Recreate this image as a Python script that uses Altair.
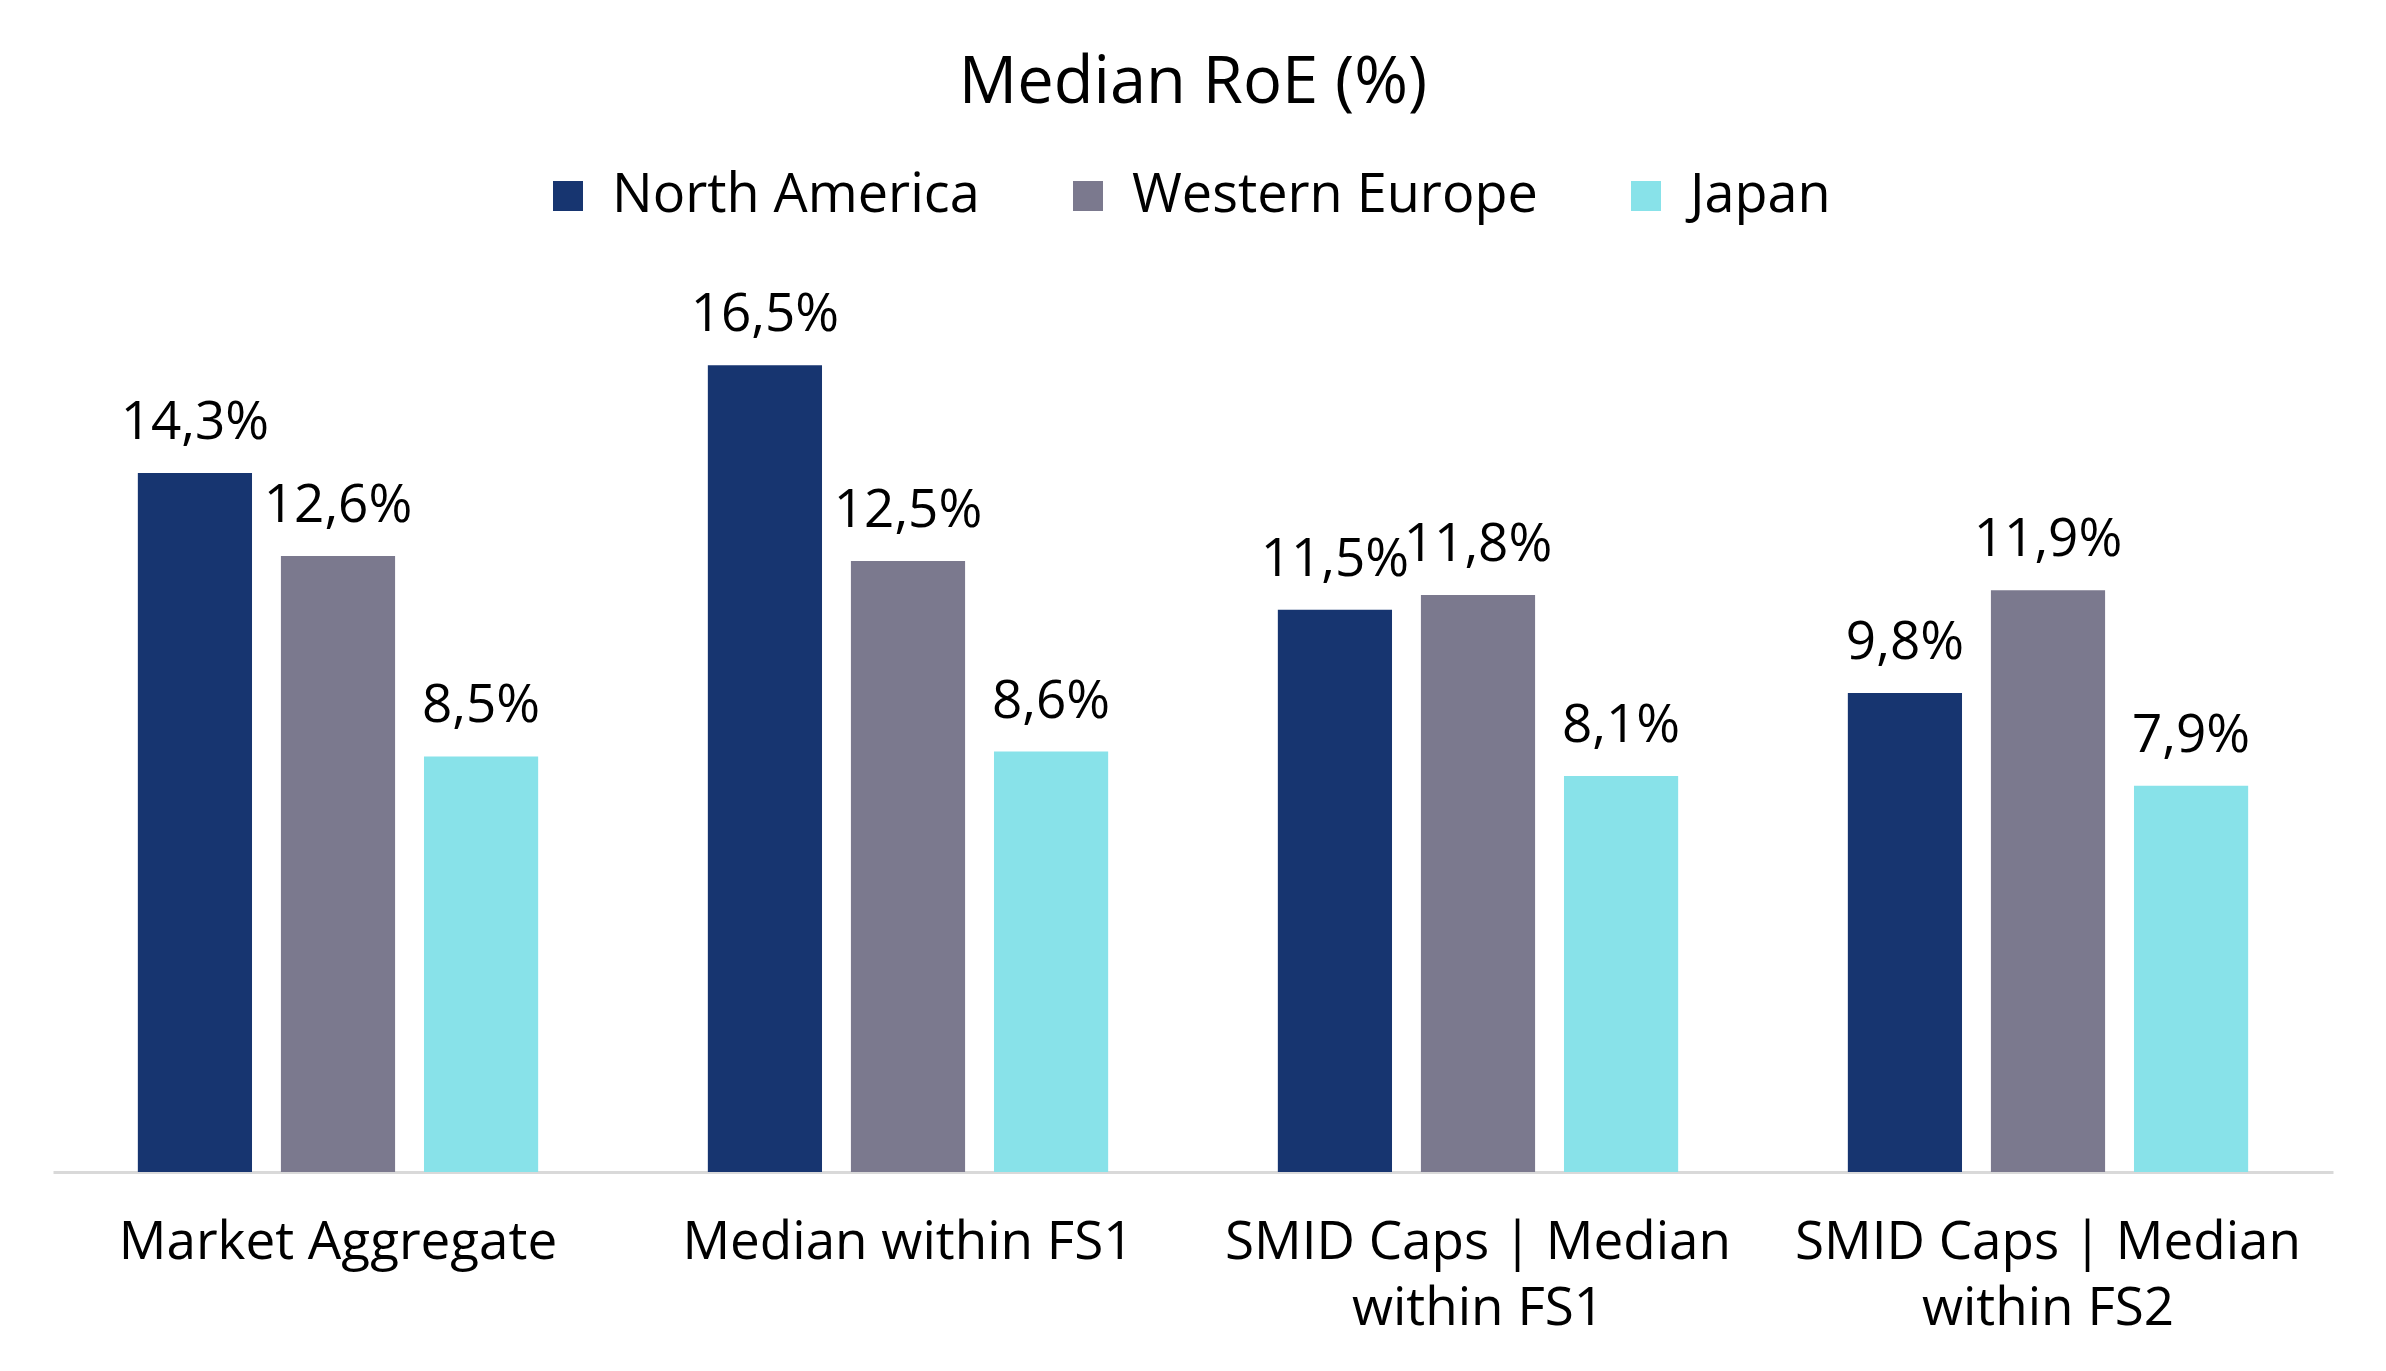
import altair as alt
import pandas as pd

categories = [
    "Market Aggregate",
    "Median within FS1",
    "SMID Caps | Median\nwithin FS1",
    "SMID Caps | Median\nwithin FS2",
]
regions = ["North America", "Western Europe", "Japan"]
north_america = [14.3, 16.5, 11.5, 9.8]
western_europe = [12.6, 12.5, 11.8, 11.9]
japan = [8.5, 8.6, 8.1, 7.9]
colors = ["#173570", "#7b798e", "#88e2e9"]

rows = []
for series_name, values in zip(regions, [north_america, western_europe, japan]):
    for cat, v in zip(categories, values):
        rows.append({"category": cat, "region": series_name, "value": v})
df = pd.DataFrame(rows)

FONT = "Open Sans"

x_enc = alt.X(
    "category:N",
    sort=categories,
    scale=alt.Scale(paddingInner=0, paddingOuter=0),
    axis=alt.Axis(
        title=None,
        labelAngle=0,
        ticks=False,
        domainColor="#d9d9d9",
        domainWidth=3,
        labelFontSize=53,
        labelFont=FONT,
        labelColor="#000000",
        labelPadding=44,
        labelLimit=0,
        labelLineHeight=66,
        labelExpr="split(datum.label, '\\n')",
    ),
)
xo_enc = alt.XOffset(
    "region:N",
    sort=regions,
    scale=alt.Scale(paddingInner=0.202, paddingOuter=0.593),
)
y_enc = alt.Y(
    "value:Q",
    scale=alt.Scale(domain=[0, 18], nice=False, zero=True),
    axis=None,
)

bars = alt.Chart(df).mark_bar().encode(
    x=x_enc,
    xOffset=xo_enc,
    y=y_enc,
    color=alt.Color(
        "region:N",
        sort=regions,
        scale=alt.Scale(domain=regions, range=colors),
        legend=alt.Legend(
            title=None,
            orient="none",
            direction="horizontal",
            columns=3,
            legendX=488,
            legendY=-123,
            padding=0,
            symbolType="square",
            symbolSize=900,
            symbolStrokeWidth=0,
            labelFont=FONT,
            labelFontSize=54,
            labelColor="#000000",
            labelOffset=17,
            columnPadding=81,
            labelLimit=0,
        ),
    ),
)

labels = alt.Chart(df).transform_calculate(
    label="replace(format(datum.value, '.1f'), '.', ',') + '%'"
).mark_text(
    baseline="alphabetic",
    dy=-34,
    fontSize=53,
    font=FONT,
    color="#000000",
).encode(
    x=alt.X("category:N", sort=categories),
    xOffset=alt.XOffset("region:N", sort=regions),
    y=alt.Y("value:Q"),
    text="label:N",
)

chart = (
    alt.layer(bars, labels)
    .properties(
        width=2280,
        height=880,
        title=alt.TitleParams(
            "Median RoE (%)",
            font=FONT,
            fontSize=65,
            fontWeight="normal",
            color="#000000",
            anchor="middle",
            baseline="alphabetic",
            offset=1,
        ),
        autosize=alt.AutoSizeParams(type="none"),
        padding={"left": 45, "top": 284, "right": 45, "bottom": 180},
        background="#ffffff",
    )
    .configure_view(strokeWidth=0, stroke="transparent")
)

chart.save("out.html", embed_options={"renderer": "svg", "actions": False})
